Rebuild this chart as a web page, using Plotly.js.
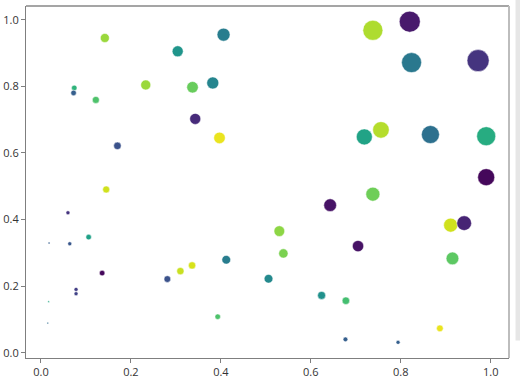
<!DOCTYPE html>
<html>
<head>
<meta charset="utf-8">
<script src="https://cdn.plot.ly/plotly-3.0.1.min.js"></script>
<style>html,body{margin:0;padding:0;background:#fff;}#chart{width:520px;height:381px;}</style>
</head>
<body>
<div id="chart"></div>
<script>
const xValues = [0.142,0.304,0.406,0.074,0.0725,0.122,0.233,0.337,0.382,0.343,0.397,0.170,0.145,
  0.738,0.820,0.824,0.972,0.719,0.756,0.866,0.990,0.990,0.738,
  0.060,0.018,0.064,0.106,0.136,0.078,0.078,0.017,0.015,0.281,0.310,0.336,0.412,0.393,
  0.643,0.530,0.539,0.705,0.911,0.941,0.915,0.506,0.624,0.678,0.677,0.794,0.887];
const yValues = [0.945,0.905,0.955,0.795,0.780,0.759,0.804,0.797,0.810,0.702,0.645,0.621,0.490,
  0.968,0.994,0.871,0.877,0.648,0.669,0.655,0.650,0.527,0.476,
  0.420,0.329,0.327,0.347,0.239,0.190,0.177,0.153,0.089,0.221,0.245,0.262,0.279,0.108,
  0.443,0.365,0.298,0.320,0.383,0.389,0.283,0.222,0.172,0.156,0.040,0.031,0.073];
const colorValues = [0.85,0.52,0.42,0.65,0.30,0.72,0.85,0.77,0.45,0.12,0.97,0.25,0.93,
  0.88,0.07,0.40,0.15,0.58,0.89,0.37,0.62,0.02,0.78,
  0.15,0.30,0.27,0.57,0.02,0.18,0.20,0.60,0.35,0.25,0.92,0.94,0.42,0.72,
  0.05,0.83,0.80,0.05,0.93,0.10,0.75,0.47,0.50,0.70,0.30,0.30,0.97];
const sizeValues = [9,11,13,5.5,5.5,7,10,11.5,12,11,11.5,7.5,7,
  20,21,20,22,16,16.5,18,19,17,14,
  4,2,4,5.5,5.5,4,4,1.7,1.7,6.7,7.3,7.3,8.7,5.5,
  12.7,10.7,9.3,11.3,14,14.7,12.7,8.7,8,7.5,4.7,4,6.7];
const tickVals = [0,0.2,0.4,0.6,0.8,1.0];
const tickLabels = ["0.0","0.2","0.4","0.6","0.8","1.0"];

const trace = {
  type: 'scatter', mode: 'markers',
  x: xValues, y: yValues,
  marker: {
    size: sizeValues, color: colorValues, colorscale: 'Viridis', cmin: 0, cmax: 1,
    opacity: 1, line: {color: '#ffffff', width: 0.5}
  },
  hoverinfo: 'x+y'
};

const axisCommon = {
  showgrid: false, zeroline: false, showline: true, linecolor: '#7f7f7f', linewidth: 1,
  ticks: 'outside', ticklen: 4, tickwidth: 1, tickcolor: '#7f7f7f',
  tickvals: tickVals, ticktext: tickLabels,
  tickfont: {family: 'Open Sans, DejaVu Sans, sans-serif', size: 11, color: '#333333'}
};

const layout = {
  width: 520, height: 381,
  margin: {l: 26, r: 11, t: 6, b: 23, pad: 0},
  paper_bgcolor: '#ffffff', plot_bgcolor: '#ffffff',
  showlegend: false,
  xaxis: Object.assign({}, axisCommon, {range: [-0.0333, 1.0407]}),
  yaxis: Object.assign({}, axisCommon, {range: [-0.016, 1.041]}),
  shapes: [
    {type: 'line', xref: 'paper', yref: 'paper', x0: 0, x1: 1, y0: 1, y1: 1, line: {color: '#4d4d4d', width: 1.2}},
    {type: 'line', xref: 'paper', yref: 'paper', x0: 1, x1: 1, y0: 0, y1: 1, line: {color: '#bdbdbd', width: 2}},
    {type: 'rect', xref: 'paper', yref: 'paper', x0: 1.0135, x1: 1.026, y0: 0.05, y1: 1.02, fillcolor: '#e6e6e6', line: {width: 0}}
  ]
};

Plotly.newPlot('chart', [trace], layout, {displayModeBar: false, staticPlot: true});
</script>
</body>
</html>
